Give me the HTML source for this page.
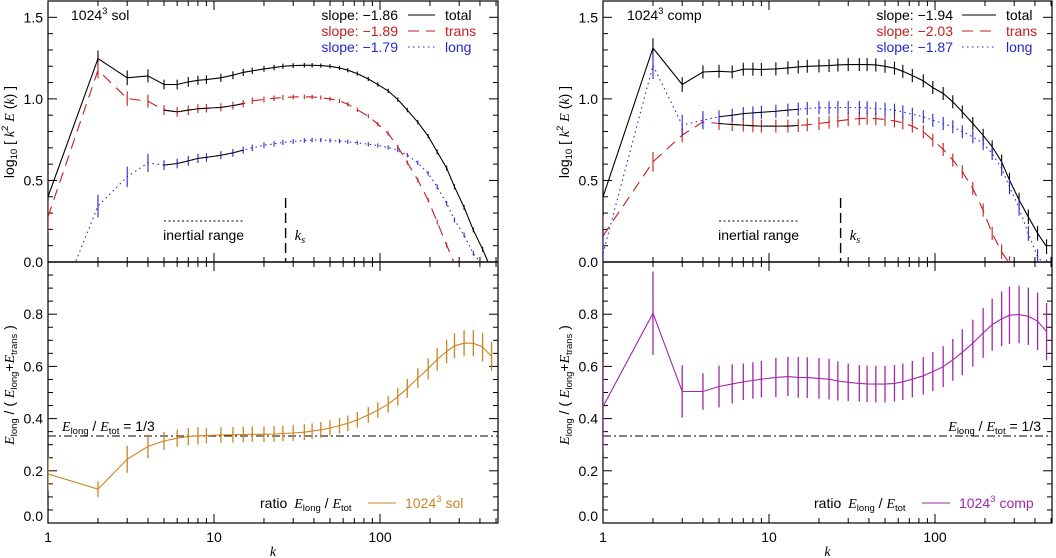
<!DOCTYPE html>
<html><head><meta charset="utf-8">
<style>
html,body{margin:0;padding:0;background:#fff;}
svg{display:block;font-family:"Liberation Sans",sans-serif;}
.it{font-family:"Liberation Serif",serif;font-style:italic;}
</style></head>
<body>
<svg id="chart" width="1056" height="558" viewBox="0 0 1056 558" xmlns="http://www.w3.org/2000/svg">
<defs>
<clipPath id="clipLT"><rect x="48" y="1" width="450" height="261"/></clipPath>
<clipPath id="clipLB"><rect x="48" y="262" width="450" height="261"/></clipPath>
<clipPath id="clipRT"><rect x="603" y="1" width="449" height="261"/></clipPath>
<clipPath id="clipRB"><rect x="603" y="262" width="449" height="261"/></clipPath>
</defs>
<g id="root"></g>
</svg>
<script>
const K = [1,2,3,4,5,6,7,8,9,11,13,15,17,20,23,26,30,35,39,44,50,57,64,73,85,97,112,128,146,169,195,221,252,281,321,365,415,470];
const solTotal = [0.40,1.247,1.129,1.141,1.088,1.088,1.104,1.114,1.118,1.129,1.145,1.162,1.172,1.184,1.192,1.200,1.204,1.206,1.206,1.204,1.200,1.190,1.176,1.155,1.122,1.088,1.049,0.996,0.931,0.857,0.772,0.675,0.576,0.461,0.335,0.196,0.078,-0.05];
const solTrans = [0.277,1.176,1.002,0.986,0.931,0.920,0.931,0.940,0.942,0.948,0.959,0.971,0.988,0.996,1.004,1.008,1.012,1.012,1.012,1.008,1.0,0.988,0.967,0.933,0.894,0.845,0.788,0.706,0.610,0.502,0.380,0.245,0.104,-0.01,-0.15,-0.3,-0.45,-0.6];
const solLong = [-0.42,0.343,0.522,0.608,0.594,0.604,0.620,0.635,0.641,0.655,0.669,0.686,0.700,0.716,0.724,0.733,0.739,0.745,0.747,0.747,0.745,0.741,0.737,0.731,0.722,0.714,0.702,0.686,0.655,0.608,0.543,0.461,0.359,0.257,0.165,0.053,-0.02,-0.1];
const solErr = [0.1,0.05,0.045,0.04,0.03,0.03,0.03,0.028,0.026,0.025,0.024,0.022,0.02,0.018,0.017,0.016,0.015,0.014,0.014,0.013,0.013,0.013,0.013,0.013,0.013,0.013,0.013,0.013,0.013,0.013,0.013,0.015,0.015,0.015,0.015,0.015,0.015,0.015];
const compTotal = [0.40,1.312,1.088,1.165,1.169,1.165,1.182,1.182,1.180,1.184,1.19,1.196,1.200,1.202,1.204,1.208,1.21,1.21,1.21,1.208,1.2,1.188,1.169,1.143,1.110,1.069,1.033,0.982,0.920,0.849,0.777,0.706,0.614,0.502,0.380,0.277,0.176,0.094];
const compTrans = [0.16,0.614,0.778,0.859,0.849,0.843,0.839,0.835,0.833,0.833,0.833,0.837,0.841,0.849,0.857,0.865,0.873,0.879,0.881,0.879,0.873,0.865,0.853,0.833,0.798,0.747,0.690,0.625,0.553,0.451,0.318,0.175,0.063,-0.01,-0.15,-0.3,-0.45,-0.6];
const compLong = [0.053,1.206,0.839,0.869,0.890,0.900,0.910,0.914,0.918,0.924,0.931,0.937,0.941,0.945,0.945,0.947,0.947,0.947,0.945,0.941,0.937,0.931,0.920,0.906,0.890,0.869,0.849,0.829,0.798,0.767,0.727,0.665,0.574,0.461,0.329,0.175,0.033,-0.03];
const compErr = [0.12,0.06,0.045,0.04,0.04,0.04,0.04,0.04,0.04,0.04,0.04,0.04,0.04,0.04,0.04,0.04,0.04,0.04,0.04,0.04,0.04,0.04,0.04,0.04,0.04,0.04,0.04,0.04,0.04,0.04,0.04,0.04,0.045,0.045,0.045,0.045,0.045,0.045];
const solRatio = [0.188,0.130,0.244,0.293,0.314,0.325,0.331,0.334,0.335,0.337,0.338,0.339,0.34,0.34,0.341,0.343,0.345,0.348,0.352,0.357,0.364,0.373,0.382,0.395,0.414,0.432,0.455,0.484,0.516,0.555,0.591,0.627,0.657,0.679,0.689,0.689,0.674,0.638];
const solRatioErr = [0.065,0.03,0.052,0.045,0.035,0.033,0.033,0.033,0.03,0.03,0.03,0.03,0.03,0.03,0.03,0.03,0.03,0.03,0.03,0.03,0.03,0.03,0.03,0.03,0.03,0.03,0.032,0.034,0.036,0.038,0.04,0.043,0.045,0.048,0.05,0.05,0.055,0.055];
const compRatio = [0.446,0.804,0.504,0.504,0.523,0.533,0.541,0.546,0.551,0.558,0.561,0.558,0.557,0.554,0.551,0.544,0.539,0.535,0.533,0.532,0.532,0.535,0.541,0.551,0.564,0.580,0.599,0.625,0.654,0.689,0.728,0.760,0.782,0.796,0.799,0.792,0.773,0.733];
const compRatioErr = [0.17,0.16,0.1,0.07,0.08,0.075,0.07,0.07,0.07,0.075,0.075,0.078,0.078,0.078,0.078,0.075,0.072,0.07,0.07,0.07,0.07,0.07,0.07,0.07,0.072,0.075,0.078,0.08,0.088,0.09,0.095,0.1,0.105,0.11,0.11,0.11,0.11,0.11];
const topTicks = ["0.0","0.5","1.0","1.5"];
const botTicks = ["0.0","0.2","0.4","0.6","0.8"];
const xTickLabels = ["1","10","100"];

const NS="http://www.w3.org/2000/svg";
const root=document.getElementById('root');
const RED="#c41e1e", BLUE="#2626d0", ORANGE="#cc8420", PURPLE="#a226a8";
function mk(tag,attrs,parent){const e=document.createElementNS(NS,tag);for(const a in attrs)e.setAttribute(a,attrs[a]);(parent||root).appendChild(e);return e;}

const panels=[
 {id:'sol',x0:48,x1:498,total:solTotal,trans:solTrans,long:solLong,err:solErr,ratio:solRatio,rerr:solRatioErr,color:ORANGE,
  ctop:'clipLT',cbot:'clipLB',title:'sol',slopes:['\u22121.86','\u22121.89','\u22121.79'],slopeEnd:398,lineX:408,labX:445,titleX:71,
  thirdX:62,thirdAnchor:'start',ratioLegX:260},
 {id:'comp',x0:603,x1:1052,total:compTotal,trans:compTrans,long:compLong,err:compErr,ratio:compRatio,rerr:compRatioErr,color:PURPLE,
  ctop:'clipRT',cbot:'clipRB',title:'comp',slopes:['\u22121.94','\u22122.03','\u22121.87'],slopeEnd:953,lineX:962,labX:1006,titleX:627,
  thirdX:1041,thirdAnchor:'end',ratioLegX:814}
];
const TY0=1,TY1=262,BY0=262,BY1=523;
panels.forEach(p=>{
  const X=k=>p.x0+166*Math.log10(k);
  const YT=v=>TY1-(v/1.6)*(TY1-TY0);
  const YB=v=>BY1-v*(BY1-BY0);
  const g=mk('g',{});
  
  
  const fr=mk('rect',{x:p.x0,y:TY0,width:p.x1-p.x0,height:BY1-TY0,fill:'none',stroke:'#000','stroke-width':1.2},g);
  
  mk('line',{x1:p.x0,x2:p.x1,y1:TY1,y2:TY1,stroke:'#000','stroke-width':1.4},g);
  const xt=mk('g',{stroke:'#000','stroke-width':1},g);
  
  for(let d=0;d<3;d++){for(let m=1;m<10;m++){const k=m*Math.pow(10,d);const x=X(k);if(x>p.x1+0.5)continue;
    const L=m===1?9:5;
    [TY0,TY1,BY1].forEach(y=>{ if(y!==TY1){const dir=(y===TY0)?1:-1;mk('line',{x1:x,x2:x,y1:y,y2:y+dir*L},xt);} else {mk('line',{x1:x,x2:x,y1:y-L,y2:y+L},xt);} });
  }}
  xTickLabels.forEach((t,i)=>{const tx=mk('text',{x:X(Math.pow(10,i)),y:542,'text-anchor':'middle','font-size':14},g);tx.textContent=t;
    });
  const kl=mk('text',{x:(p.x0+p.x1)/2,y:556,'text-anchor':'middle','font-size':14,class:'it'},g);kl.textContent='k';
  
  for(let i=0;i<=16;i++){const y=YT(i*0.1);const L=(i%5===0)?9:5;
    mk('line',{x1:p.x0,x2:p.x0+L,y1:y,y2:y,stroke:'#000'},g);mk('line',{x1:p.x1,x2:p.x1-L,y1:y,y2:y,stroke:'#000'},g);}
  topTicks.forEach((t,i)=>{const tx=mk('text',{x:p.x0-5,y:YT(i*0.5)+5,'text-anchor':'end','font-size':14},g);tx.textContent=t;
    });
  for(let i=0;i<=20;i++){const y=YB(i*0.05);const L=(i%4===0)?9:5;
    mk('line',{x1:p.x0,x2:p.x0+L,y1:y,y2:y,stroke:'#000'},g);mk('line',{x1:p.x1,x2:p.x1-L,y1:y,y2:y,stroke:'#000'},g);}
  botTicks.forEach((t,i)=>{const tx=mk('text',{x:p.x0-5,y:(i===0?YB(0)-2:YB(i*0.2)+5),'text-anchor':'end','font-size':14},g);tx.textContent=t;
    });
  const yt1=mk('text',{transform:`translate(${p.x0-34},132) rotate(-90)`,'text-anchor':'middle','font-size':14},g);
  yt1.innerHTML='log<tspan font-size="9.5" dy="3">10</tspan><tspan dy="-3"> [ </tspan><tspan class="it">k</tspan><tspan font-size="9.5" dy="-6">2</tspan><tspan dy="6"> </tspan><tspan class="it">E</tspan> (<tspan class="it">k</tspan>) ]';
  
  const yt2=mk('text',{transform:`translate(${p.x0-34},385) rotate(-90)`,'text-anchor':'middle','font-size':14},g);
  yt2.innerHTML='<tspan class="it">E</tspan><tspan font-size="9.5" dy="3">long</tspan><tspan dy="-3"> / ( </tspan><tspan class="it">E</tspan><tspan font-size="9.5" dy="3">long</tspan><tspan dy="-3">+</tspan><tspan class="it">E</tspan><tspan font-size="9.5" dy="3">trans</tspan><tspan dy="-3"> )</tspan>';
  

  const series=[{n:'total',d:p.total,c:'#000',dash:'',lab:'total'},{n:'trans',d:p.trans,c:RED,dash:'11,7',lab:'trans'},{n:'long',d:p.long,c:BLUE,dash:'1.5,3.5',lab:'long'}];
  const gt=mk('g',{'clip-path':`url(#${p.ctop})`},g);
  series.forEach(s=>{
    const sg=mk('g',{},gt);
    
    const pts=K.map((k,i)=>X(k).toFixed(1)+','+YT(s.d[i]).toFixed(1)).join(' ');
    mk('polyline',{points:pts,fill:'none',stroke:s.c,'stroke-width':1.1,'stroke-dasharray':s.dash},sg);
    K.forEach((k,i)=>{const x=X(k);const e=p.err[i]*(s.n==='long'&&i<4?1.4:1);
      const b=mk('line',{x1:x,x2:x,y1:YT(s.d[i]-e),y2:YT(s.d[i]+e),stroke:s.c,'stroke-width':1.1},sg);
      });
    if(s.n!=='total'){const fp=K.map((k,i)=>[k,s.d[i]]).filter(a=>a[0]>=5&&a[0]<=15).map(a=>X(a[0]).toFixed(1)+','+YT(a[1]).toFixed(1)).join(' ');
      const f=mk('polyline',{points:fp,fill:'none',stroke:'#000','stroke-width':1},sg);
      }
  });
  const lg=mk('g',{},g);
  series.forEach((s,i)=>{const y=20+16*i;
    const t1=mk('text',{x:p.slopeEnd,y:y,'text-anchor':'end','font-size':14,fill:s.c},lg);t1.textContent='slope: '+p.slopes[i];
    mk('line',{x1:p.lineX,x2:p.lineX+(p.labX-p.lineX-10),y1:y-5,y2:y-5,stroke:s.c,'stroke-width':1.1,'stroke-dasharray':s.dash},lg);
    const t2=mk('text',{x:p.labX,y:y,'font-size':14,fill:s.c},lg);t2.textContent=s.lab;});
  const tt=mk('text',{x:p.titleX,y:20,'font-size':14},g);
  tt.innerHTML='1024<tspan font-size="9.5" dy="-6">3</tspan><tspan dy="6" dx="4">'+p.title+'</tspan>';
  
  const ir=mk('g',{},g);
  mk('line',{x1:X(5),x2:X(15),y1:221,y2:221,stroke:'#000','stroke-dasharray':'2,2.5'},ir);
  const irt=mk('text',{x:(X(5)+X(15))/2,y:240,'text-anchor':'middle','font-size':14},ir);irt.textContent='inertial range';
  const ks=mk('g',{},g);
  mk('line',{x1:X(27),x2:X(27),y1:198,y2:262,stroke:'#000','stroke-width':1.4,'stroke-dasharray':'10,5'},ks);
  const kst=mk('text',{x:X(27)+9,y:240,'font-size':15},ks);kst.innerHTML='<tspan class="it">k</tspan><tspan font-size="10" dy="3" class="it">s</tspan>';

  const gb=mk('g',{'clip-path':`url(#${p.cbot})`},g);
  const th=mk('line',{x1:p.x0,x2:p.x1,y1:YB(1/3),y2:YB(1/3),stroke:'#000','stroke-dasharray':'8,3,2,3'},gb);
  
  const rg=mk('g',{},gb);
  mk('polyline',{points:K.map((k,i)=>X(k).toFixed(1)+','+YB(p.ratio[i]).toFixed(1)).join(' '),fill:'none',stroke:p.color,'stroke-width':1.1},rg);
  K.forEach((k,i)=>{const x=X(k);const b=mk('line',{x1:x,x2:x,y1:YB(p.ratio[i]-p.rerr[i]),y2:YB(p.ratio[i]+p.rerr[i]),stroke:p.color,'stroke-width':1.3},rg);
    });
  const tl=mk('text',{x:p.thirdX,y:431,'text-anchor':p.thirdAnchor,'font-size':14},g);
  tl.innerHTML='<tspan class="it">E</tspan><tspan font-size="9.5" dy="3">long</tspan><tspan dy="-3"> / </tspan><tspan class="it">E</tspan><tspan font-size="9.5" dy="3">tot</tspan><tspan dy="-3"> = 1/3</tspan>';
  
  const rl=mk('g',{},g);
  const r1=mk('text',{x:p.ratioLegX,y:508,'font-size':14},rl);
  r1.innerHTML='ratio<tspan class="it" dx="7">E</tspan><tspan font-size="9.5" dy="3">long</tspan><tspan dy="-3"> / </tspan><tspan class="it">E</tspan><tspan font-size="9.5" dy="3">tot</tspan>';
  const lx=p.ratioLegX+108;
  mk('line',{x1:lx,x2:lx+28,y1:503,y2:503,stroke:p.color,'stroke-width':1.1},rl);
  const r2=mk('text',{x:lx+37,y:508,'font-size':14,fill:p.color},rl);
  r2.innerHTML='1024<tspan font-size="9.5" dy="-6">3</tspan><tspan dy="6" dx="4">'+p.title+'</tspan>';
});
</script>
</body></html>
